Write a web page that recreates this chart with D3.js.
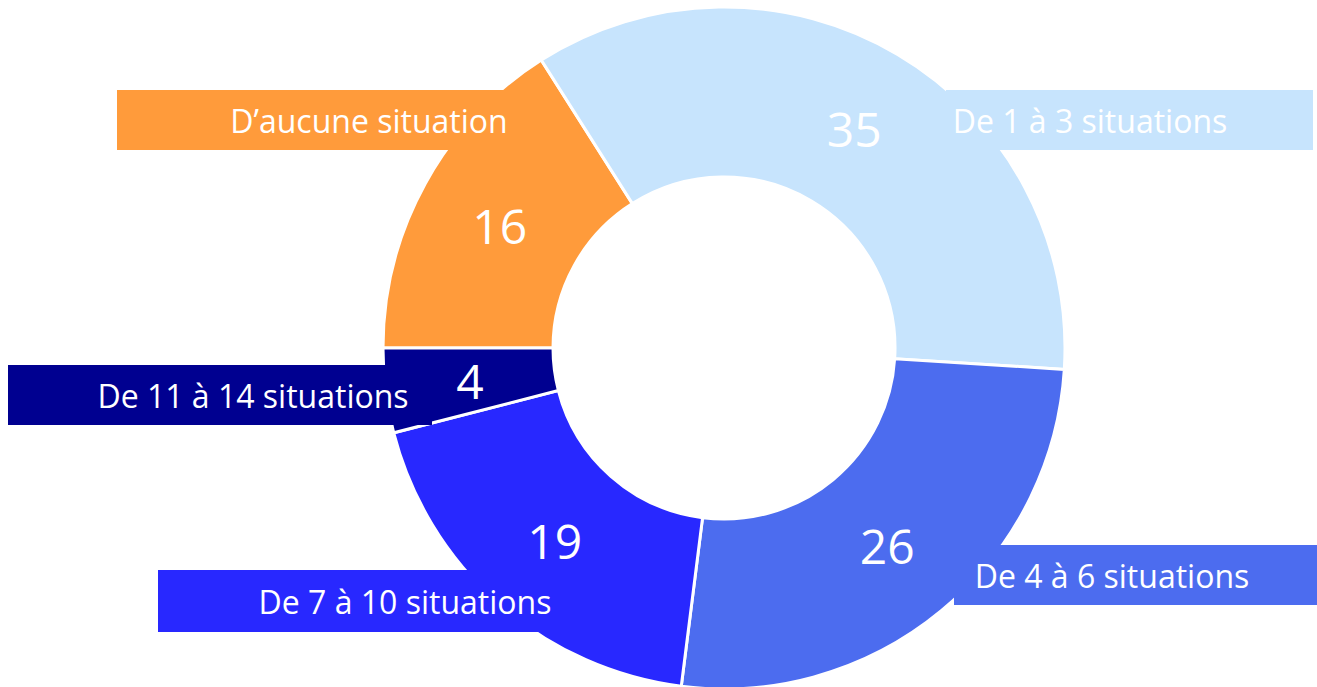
<!DOCTYPE html>
<html>
<head>
<meta charset="utf-8">
<script src="https://cdn.jsdelivr.net/npm/d3@7"></script>
<style>
  body { margin: 0; background: #fff; }
  svg { display: block; }
</style>
</head>
<body>
<script>
// data
var categories = ["D’aucune situation", "De 1 à 3 situations", "De 4 à 6 situations",
                  "De 7 à 10 situations", "De 11 à 14 situations"];
var values = [16, 35, 26, 19, 4];
var colors = ["#FF9B3B", "#C7E4FD", "#4C6CEF", "#2828FF", "#000090"];

var w = 1317;
var h = 687;
var cx = 724, cy = 348;
var outerR = 341, innerR = 171;

// label boxes (layout only): left, right, top, bottom, text centre
var boxes = [
  { x0: 117, x1: 522, y0: 90,  y1: 150, tx: 369 },
  { x0: 946, x1: 1313, y0: 90, y1: 150, tx: 1090 },
  { x0: 954, x1: 1317, y0: 545, y1: 605, tx: 1112 },
  { x0: 158, x1: 560, y0: 570, y1: 632, tx: 405 },
  { x0: 8,   x1: 432, y0: 365, y1: 425, tx: 253 }
];

var svg = d3.select("body").append("svg")
            .attr("width", w)
            .attr("height", h);

var pie = d3.pie()
            .sort(null)
            .startAngle(-Math.PI / 2)
            .endAngle(3 * Math.PI / 2);

var arc = d3.arc()
            .innerRadius(innerR)
            .outerRadius(outerR);

var arcs = pie(values);

var g = svg.append("g")
           .attr("transform", "translate(" + cx + "," + cy + ")");

g.selectAll("path")
 .data(arcs)
 .enter()
 .append("path")
 .attr("d", arc)
 .attr("fill", function(d, i) { return colors[i]; })
 .attr("stroke", "#fff")
 .attr("stroke-width", 3)
 .attr("stroke-linejoin", "miter");

// category boxes
svg.selectAll("rect.lab")
   .data(categories)
   .enter()
   .append("rect")
   .attr("class", "lab")
   .attr("x", function(d, i) { return boxes[i].x0; })
   .attr("y", function(d, i) { return boxes[i].y0; })
   .attr("width", function(d, i) { return boxes[i].x1 - boxes[i].x0; })
   .attr("height", function(d, i) { return boxes[i].y1 - boxes[i].y0; })
   .attr("fill", function(d, i) { return colors[i]; });

svg.selectAll("text.lab")
   .data(categories)
   .enter()
   .append("text")
   .attr("class", "lab")
   .text(function(d) { return d; })
   .attr("x", function(d, i) { return boxes[i].tx; })
   .attr("y", function(d, i) { return (boxes[i].y0 + boxes[i].y1) / 2 + 13; })
   .attr("text-anchor", "middle")
   .attr("font-family", "'Open Sans', sans-serif")
   .attr("font-size", "32px")
   .attr("fill", "#fff");

// values at slice centroids
g.selectAll("text.val")
 .data(arcs)
 .enter()
 .append("text")
 .attr("class", "val")
 .text(function(d) { return d.data; })
 .attr("x", function(d) { return arc.centroid(d)[0]; })
 .attr("y", function(d) { return arc.centroid(d)[1]; })
 .attr("dy", "0.4em")
 .attr("text-anchor", "middle")
 .attr("font-family", "'Open Sans', sans-serif")
 .attr("font-size", "48px")
 .attr("fill", "#fff");
</script>
</body>
</html>
